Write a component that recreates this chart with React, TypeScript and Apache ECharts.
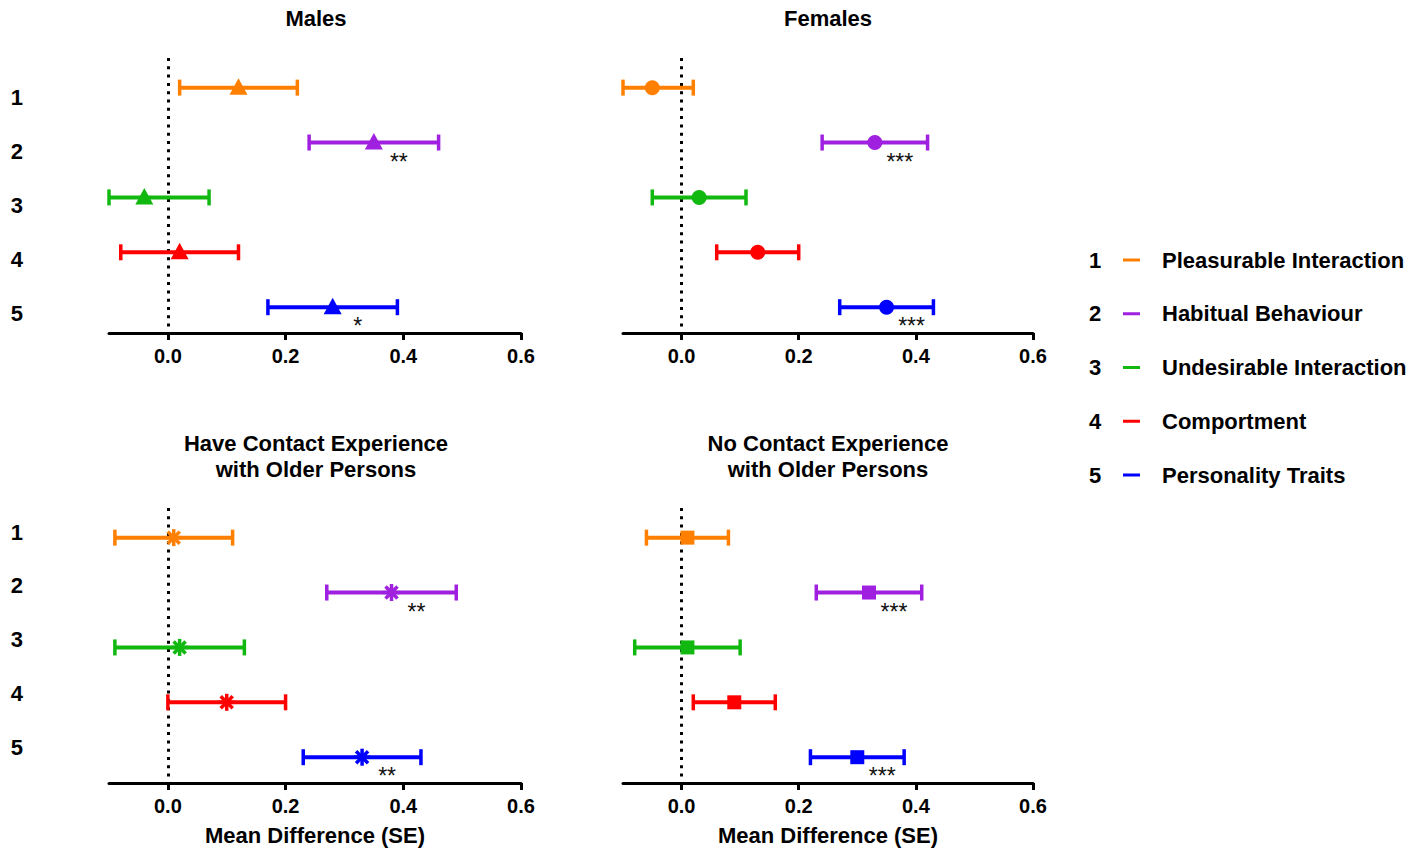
import React, { useEffect, useRef } from 'react';
import * as echarts from 'echarts';

const FONT = "'Liberation Sans', Arial, Helvetica, sans-serif";

const categories = [
  'Pleasurable Interaction',
  'Habitual Behaviour',
  'Undesirable Interaction',
  'Comportment',
  'Personality Traits',
];
const rowLabels = ['1', '2', '3', '4', '5'];
const rows = [1, 2, 3, 4, 5];
const colors = ['#FF8000', '#A020E0', '#10B810', '#FF0000', '#0000FF'];
const xTicks = [0, 0.2, 0.4, 0.6];

const panelTitles = [
  'Males',
  'Females',
  'Have Contact Experience\nwith Older Persons',
  'No Contact Experience\nwith Older Persons',
];
const xAxisTitle = 'Mean Difference (SE)';

const malesMean = [0.12, 0.35, -0.04, 0.02, 0.28];
const malesLow = [0.02, 0.24, -0.1, -0.08, 0.17];
const malesHigh = [0.22, 0.46, 0.07, 0.12, 0.39];
const malesSig = ['', '**', '', '', '*'];

const femalesMean = [-0.05, 0.33, 0.03, 0.13, 0.35];
const femalesLow = [-0.1, 0.24, -0.05, 0.06, 0.27];
const femalesHigh = [0.02, 0.42, 0.11, 0.2, 0.43];
const femalesSig = ['', '***', '', '', '***'];

const contactMean = [0.01, 0.38, 0.02, 0.1, 0.33];
const contactLow = [-0.09, 0.27, -0.09, 0.0, 0.23];
const contactHigh = [0.11, 0.49, 0.13, 0.2, 0.43];
const contactSig = ['', '**', '', '', '**'];

const noContactMean = [0.01, 0.32, 0.01, 0.09, 0.3];
const noContactLow = [-0.06, 0.23, -0.08, 0.02, 0.22];
const noContactHigh = [0.08, 0.41, 0.1, 0.16, 0.38];
const noContactSig = ['', '***', '', '', '***'];

const panelMeans = [malesMean, femalesMean, contactMean, noContactMean];
const panelLows = [malesLow, femalesLow, contactLow, noContactLow];
const panelHighs = [malesHigh, femalesHigh, contactHigh, noContactHigh];
const panelSigs = [malesSig, femalesSig, contactSig, noContactSig];
const panelMarkers = ['triangle', 'circle', 'asterisk', 'square'];

// layout
const grids = [
  { left: 109, top: 58, width: 412, height: 275 },
  { left: 623, top: 58, width: 410, height: 275 },
  { left: 109, top: 508, width: 412, height: 275 },
  { left: 623, top: 508, width: 410, height: 275 },
];
const titlePos = [
  { x: 316, y: 18 },
  { x: 828, y: 18 },
  { x: 316, y: 456 },
  { x: 828, y: 456 },
];

function makeRender(marker: string, sigs: string[]) {
  return (params: any, api: any) => {
    const mean = api.value(0);
    const low = api.value(1);
    const high = api.value(2);
    const row = api.value(3);
    const p = api.coord([mean, row]);
    const cx = p[0];
    const cy = p[1];
    const xl = api.coord([low, row])[0];
    const xh = api.coord([high, row])[0];
    const color = api.visual('color');
    const children: any[] = [];
    children.push({
      type: 'line',
      shape: { x1: xl, y1: cy, x2: xh, y2: cy },
      style: { stroke: color, lineWidth: 4 },
    });
    children.push({
      type: 'line',
      shape: { x1: xl, y1: cy - 8, x2: xl, y2: cy + 8 },
      style: { stroke: color, lineWidth: 3.5 },
    });
    children.push({
      type: 'line',
      shape: { x1: xh, y1: cy - 8, x2: xh, y2: cy + 8 },
      style: { stroke: color, lineWidth: 3.5 },
    });
    if (marker === 'triangle') {
      children.push({
        type: 'polygon',
        shape: { points: [[cx, cy - 9.5], [cx - 9, cy + 7], [cx + 9, cy + 7]] },
        style: { fill: color },
      });
    } else if (marker === 'circle') {
      children.push({
        type: 'circle',
        shape: { cx, cy, r: 7.5 },
        style: { fill: color },
      });
    } else if (marker === 'square') {
      children.push({
        type: 'rect',
        shape: { x: cx - 7, y: cy - 7, width: 14, height: 14 },
        style: { fill: color },
      });
    } else {
      const r = 8.5;
      const angles = [0, 45, 90, 135];
      angles.forEach((a) => {
        const rad = (a * Math.PI) / 180;
        const dx = Math.cos(rad) * r;
        const dy = Math.sin(rad) * r;
        children.push({
          type: 'line',
          shape: { x1: cx - dx, y1: cy - dy, x2: cx + dx, y2: cy + dy },
          style: { stroke: color, lineWidth: 3.5 },
        });
      });
    }
    const sig = sigs[params.dataIndex];
    if (sig) {
      children.push({
        type: 'text',
        style: {
          text: sig,
          x: cx + 25,
          y: cy + 19,
          fill: '#111',
          fontSize: 23,
          fontFamily: FONT,
          align: 'center',
          verticalAlign: 'middle',
        },
      });
    }
    return { type: 'group', children };
  };
}

export default function App() {
  const ref = useRef<HTMLDivElement>(null);

  useEffect(() => {
    document.body.style.margin = '0';
    if (!ref.current) return;
    const chart = echarts.init(ref.current, undefined, { renderer: 'svg' });

    const xAxes: any[] = [];
    const yAxes: any[] = [];
    const dataAxisIndex: number[] = [];

    grids.forEach((g, p) => {
      xAxes.push({
        gridIndex: p,
        type: 'value',
        min: -0.1,
        max: 0.6,
        axisLine: { show: true, onZero: false, lineStyle: { color: '#000', width: 3 } },
        axisTick: {
          show: true,
          customValues: xTicks,
          length: 7,
          lineStyle: { color: '#000', width: 3 },
        },
        axisLabel: {
          customValues: xTicks,
          formatter: (v: number) => v.toFixed(1),
          fontSize: 20,
          fontWeight: 'bold',
          color: '#000',
          fontFamily: FONT,
          margin: 13,
        },
        splitLine: { show: false },
        name: p >= 2 ? xAxisTitle : '',
        nameLocation: 'middle',
        nameGap: 41,
        nameTextStyle: { fontSize: 22, fontWeight: 'bold', color: '#000', fontFamily: FONT },
      });
      // data axis
      dataAxisIndex.push(yAxes.length);
      yAxes.push({
        gridIndex: p,
        type: 'value',
        inverse: true,
        min: 0.46,
        max: 5.47,
        show: false,
      });
      // label axis for left panels
      if (p === 0 || p === 2) {
        const lmin = p === 0 ? 0.256 : 0.553;
        yAxes.push({
          gridIndex: p,
          type: 'value',
          inverse: true,
          min: lmin,
          max: lmin + 5.116,
          position: 'left',
          axisLine: { show: false },
          axisTick: { show: false },
          splitLine: { show: false },
          axisLabel: {
            customValues: rows,
            formatter: (v: number) => rowLabels[Math.round(v) - 1] || '',
            fontSize: 22,
            fontWeight: 'bold',
            color: '#000',
            fontFamily: FONT,
            margin: 86,
          },
        });
      }
    });

    const series: any[] = [];
    grids.forEach((g, p) => {
      series.push({
        type: 'custom',
        name: 'zero-' + p,
        xAxisIndex: p,
        yAxisIndex: dataAxisIndex[p],
        data: [],
        renderItem: () => ({ type: 'group', children: [] }),
        z: 1,
        silent: true,
        markLine: {
          silent: true,
          z: 1,
          symbol: ['none', 'none'],
          label: { show: false },
          emphasis: { disabled: true },
          lineStyle: { color: '#000', type: [3, 5.3], width: 3 },
          data: [{ xAxis: 0 }],
        },
      });
      categories.forEach((cat, c) => {
        const sigs = [panelSigs[p][c]];
        series.push({
          type: 'custom',
          name: cat,
          xAxisIndex: p,
          yAxisIndex: dataAxisIndex[p],
          z: 3,
          color: colors[c],
          itemStyle: { color: colors[c] },
          encode: { x: [0, 1, 2], y: 3 },
          data: [[panelMeans[p][c], panelLows[p][c], panelHighs[p][c], rows[c]]],
          renderItem: makeRender(panelMarkers[p], sigs),
        });
      });
    });

    const graphics: any[] = [];
    panelTitles.forEach((t, i) => {
      graphics.push({
        type: 'text',
        x: titlePos[i].x,
        y: titlePos[i].y,
        style: {
          text: t,
          fill: '#000',
          fontSize: 22,
          fontWeight: 'bold',
          fontFamily: FONT,
          align: 'center',
          verticalAlign: 'middle',
          lineHeight: 26,
        },
      });
    });
    rowLabels.forEach((l, i) => {
      graphics.push({
        type: 'text',
        x: 1095,
        y: 260 + i * 53.75,
        style: {
          text: l,
          fill: '#000',
          fontSize: 22,
          fontWeight: 'bold',
          fontFamily: FONT,
          align: 'center',
          verticalAlign: 'middle',
        },
      });
    });

    chart.setOption({
      animation: false,
      backgroundColor: '#fff',
      grid: grids.map((g) => ({ ...g, containLabel: false })),
      xAxis: xAxes,
      yAxis: yAxes,
      legend: {
        orient: 'vertical',
        left: 1123,
        top: 249,
        padding: 0,
        itemWidth: 17,
        itemHeight: 3,
        itemGap: 31.75,
        icon: 'rect',
        selectedMode: false,
        data: categories,
        textStyle: {
          fontSize: 22,
          fontWeight: 'bold',
          color: '#000',
          fontFamily: FONT,
          padding: [0, 0, 0, 17],
        },
      },
      graphic: graphics,
      series,
    });

    return () => {
      chart.dispose();
    };
  }, []);

  return <div ref={ref} style={{ width: 1427, height: 849 }} />;
}
